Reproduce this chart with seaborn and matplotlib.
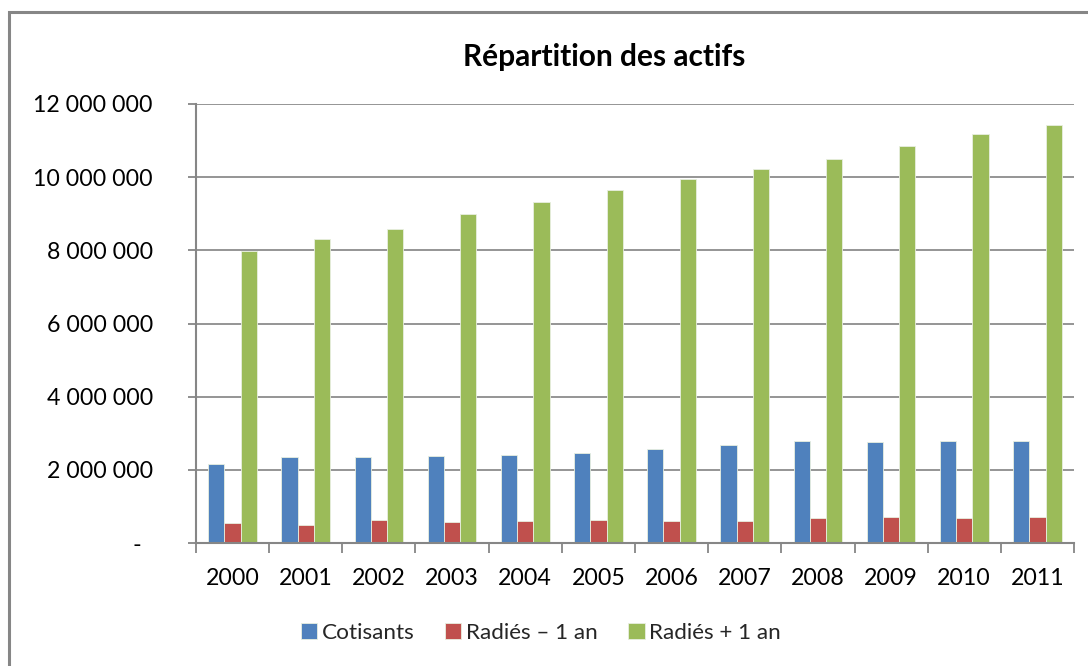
import matplotlib
matplotlib.use("Agg")
import matplotlib.pyplot as plt
import seaborn as sns
import pandas as pd
from matplotlib.patches import Rectangle
from matplotlib.ticker import FuncFormatter, FixedLocator

years = ["2000", "2001", "2002", "2003", "2004", "2005",
         "2006", "2007", "2008", "2009", "2010", "2011"]
cotisants = [2160000, 2340000, 2360000, 2380000, 2400000, 2450000,
             2560000, 2680000, 2790000, 2760000, 2790000, 2790000]
radies_moins = [540000, 490000, 620000, 575000, 590000, 620000,
                590000, 600000, 670000, 710000, 670000, 700000]
radies_plus = [7980000, 8300000, 8580000, 8980000, 9320000, 9640000,
               9950000, 10230000, 10510000, 10840000, 11180000, 11430000]
series_names = ["Cotisants", "Radiés – 1 an", "Radiés + 1 an"]
colors = ["#4F81BD", "#C0504D", "#9BBB59"]

df = pd.DataFrame({
    "Année": years * 3,
    "Série": [series_names[0]] * 12 + [series_names[1]] * 12 + [series_names[2]] * 12,
    "Valeur": cotisants + radies_moins + radies_plus,
})

sns.set_theme(style="white")
plt.rcParams["font.family"] = ["Lato", "DejaVu Sans"]

fig = plt.figure(figsize=(10.88, 6.66), dpi=100)
ax = fig.add_axes([196 / 1088, 1 - 543 / 666, (1074 - 196) / 1088, (543 - 104) / 666])

sns.barplot(data=df, x="Année", y="Valeur", hue="Série", palette=colors,
            width=0.667, gap=0, ax=ax, legend=True, saturation=1,
            edgecolor="#e8efe0", linewidth=0.6)

ax.set_xlim(-0.5, 11.5)
ax.set_ylim(0, 12000000)
ax.set_xlabel("")
ax.set_ylabel("")

def fmt(v, pos):
    if v == 0:
        return "-  "
    return f"{int(v):,}".replace(",", " ")

ax.yaxis.set_major_locator(FixedLocator(list(range(0, 12000001, 2000000))))
ax.yaxis.set_major_formatter(FuncFormatter(fmt))
ax.grid(axis="y", color="#8c8c8c", linewidth=1.3)
ax.set_axisbelow(True)

for s in ["top", "right"]:
    ax.spines[s].set_visible(False)
for s in ["left", "bottom"]:
    ax.spines[s].set_color("#868686")
    ax.spines[s].set_linewidth(1.5)

ax.tick_params(axis="y", which="major", left=True, length=6, width=1.3,
               color="#868686", labelsize=16.7, pad=25, labelcolor="#000000")
ax.set_xticks(range(12))
ax.set_xticklabels(years)
ax.tick_params(axis="x", which="major", bottom=False, labelsize=16.7, pad=12,
               labelcolor="#000000")
ax.set_xticks([i - 0.5 for i in range(13)], minor=True)
ax.tick_params(axis="x", which="minor", bottom=True, length=7, width=1.3,
               color="#868686")

fig.text(604 / 1088, 1 - 57 / 666, "Répartition des actifs", fontsize=21.5,
         fontweight="bold", color="#000000", ha="center", va="center")

handles, labels = ax.get_legend_handles_labels()
ax.legend(handles, labels, loc="center", bbox_to_anchor=(541 / 1088, 1 - 633 / 666),
          bbox_transform=fig.transFigure, ncol=3, frameon=False, fontsize=16.2,
          handlelength=0.72, handleheight=0.72, handletextpad=0.22, columnspacing=1.35)

fig.patches.append(Rectangle((8.5 / 1088, -0.1), 1.2, 1 - 11.5 / 666 + 0.1,
                             transform=fig.transFigure, fill=False,
                             edgecolor="#868686", linewidth=2.2, zorder=-1))

fig.savefig("out.png", dpi=100, facecolor="white")
